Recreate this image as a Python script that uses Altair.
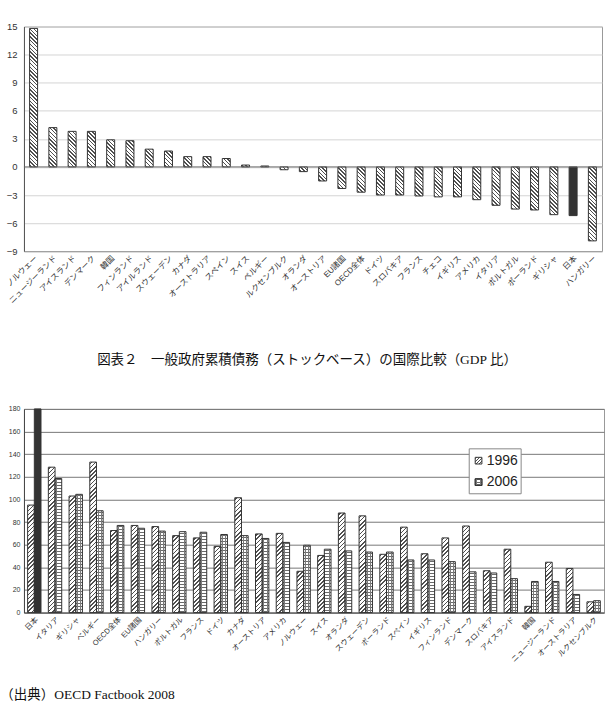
import altair as alt

# 財政収支（GDP比, %）
balance_countries = [
    "ノルウェー", "ニュージーランド", "アイスランド", "デンマーク", "韓国", "フィンランド",
    "アイルランド", "スウェーデン", "カナダ", "オーストラリア", "スペイン", "スイス",
    "ベルギー", "ルクセンブルク", "オランダ", "オーストリア", "EU諸国", "OECD全体",
    "ドイツ", "スロバキア", "フランス", "チェコ", "イギリス", "アメリカ", "イタリア",
    "ポルトガル", "ポーランド", "ギリシャ", "日本", "ハンガリー",
]
balance_values = [
    14.8, 4.2, 3.8, 3.8, 2.9, 2.8,
    1.9, 1.7, 1.1, 1.1, 0.9, 0.2,
    0.1, -0.3, -0.5, -1.5, -2.3, -2.7,
    -3.0, -3.0, -3.1, -3.2, -3.2, -3.5, -4.1,
    -4.5, -4.6, -5.1, -5.2, -7.9,
]
balance_ticks = [-9, -6, -3, 0, 3, 6, 9, 12, 15]

# 一般政府累積債務（GDP比, %）
debt_countries = [
    "日本", "イタリア", "ギリシャ", "ベルギー", "OECD全体", "EU諸国", "ハンガリー",
    "ポルトガル", "フランス", "ドイツ", "カナダ", "オーストリア", "アメリカ", "ノルウェー",
    "スイス", "オランダ", "スウェーデン", "ポーランド", "スペイン", "イギリス",
    "フィンランド", "デンマーク", "スロバキア", "アイスランド", "韓国",
    "ニュージーランド", "オーストラリア", "ルクセンブルク",
]
debt_years = ["1996", "2006"]
debt_1996 = [
    95, 128.5, 103, 133, 72.5, 77, 76,
    68, 66, 58.5, 101.5, 69.5, 70, 36.5,
    50.5, 88, 85.5, 51.5, 75.5, 52,
    66, 76.5, 37, 56, 5.5,
    44.5, 39, 9.5,
]
debt_2006 = [
    180, 118.5, 104.5, 90, 77, 74.5, 72,
    71.5, 71, 69, 68, 65.5, 62, 59.5,
    56, 54.5, 53.5, 53.5, 46.5, 46.5,
    45, 36, 35, 30, 27.5,
    27.5, 16, 10.5,
]
debt_ticks = list(range(0, 181, 20))

title_text = "図表２　一般政府累積債務（ストックベース）の国際比較（GDP 比）"
source_text = "（出典）OECD Factbook 2008"

SANS = "Liberation Sans, Noto Sans CJK JP, sans-serif"
SERIF = "Liberation Serif, Noto Sans CJK JP, serif"
INK = "#333333"
HATCH = "#505050"
CLEAR = "rgba(255,255,255,0)"

TOP_W, TOP_H = 579, 225
TOP_DOMAIN = [-9, 15]
TOP_BAR = 8
BOT_W, BOT_H = 581, 204
BOT_DOMAIN = [0, 180]
BOT_PAD = 0.355
BOT_BAR = BOT_W / len(debt_countries) * (1 - BOT_PAD) / 2


def stripe_stops(length, period, line, ink, paper="#ffffff"):
    """Hard-edged gradient stops giving evenly spaced stripes along a length in px."""
    stops = [{"offset": 0.0, "color": paper}]
    start = (period - line) / 2
    while start < length:
        a = round(start / length, 5)
        b = round(min((start + line) / length, 1.0), 5)
        stops += [
            {"offset": a, "color": paper}, {"offset": a, "color": ink},
            {"offset": b, "color": ink}, {"offset": b, "color": paper},
        ]
        start += period
    stops.append({"offset": 1.0, "color": paper})
    return stops


def hatch_back(w, h, period=3.8, line=1.5, ink=HATCH):
    # 45-degree "\" stripes inside a w x h box (bounding-box gradient units)
    h = max(h, 0.5)
    k = (w + h) / (w * w + h * h)
    return {"gradient": "linear", "x1": 0, "y1": 1,
            "x2": round(k * w, 6), "y2": round(1 - k * h, 6),
            "stops": stripe_stops(w + h, period, line, ink)}


def hatch_fwd(w, h, period=4.2, line=1.5, ink=HATCH):
    # 45-degree "/" stripes inside a w x h box
    h = max(h, 0.5)
    k = (w + h) / (w * w + h * h)
    return {"gradient": "linear", "x1": 0, "y1": 0,
            "x2": round(k * w, 6), "y2": round(k * h, 6),
            "stops": stripe_stops(w + h, period, line, ink)}


def hlines(h, period=3.0, line=1.0, ink="#6a6a6a"):
    h = max(h, 0.5)
    return {"gradient": "linear", "x1": 0.5, "y1": 0, "x2": 0.5, "y2": 1,
            "stops": stripe_stops(h, period, line, ink)}


def vlines(w, ink="#7a7a7a"):
    return {"gradient": "linear", "x1": 0, "y1": 0, "x2": 1, "y2": 0,
            "stops": stripe_stops(w, w / 2, 0.8, ink, paper=CLEAR)}


one_row = alt.Data(values=[{}])

# ---------- 財政収支 ----------
px_top = TOP_H / (TOP_DOMAIN[1] - TOP_DOMAIN[0])
top_rows = [
    {"country": c, "value": v,
     "fill": INK if c == "日本" else hatch_back(TOP_BAR, abs(v) * px_top)}
    for c, v in zip(balance_countries, balance_values)
]

top_y_scale = alt.Scale(domain=TOP_DOMAIN, nice=False, zero=False)
top_y_axis = alt.Axis(values=balance_ticks, gridColor="#d4d4d4", domainColor="#555555",
                      ticks=False, labelFontSize=9.5, labelPadding=7, labelOverlap=False)

top_bars = alt.Chart(alt.Data(values=top_rows)).mark_bar(
    size=TOP_BAR, stroke=INK, strokeWidth=1
).encode(
    x=alt.X("country:N", sort=balance_countries, title=None,
            axis=alt.Axis(labelAngle=-45, labelFontSize=8, ticks=False,
                          domainColor="#999999", labelPadding=3)),
    y=alt.Y("value:Q", title=None, scale=top_y_scale, axis=top_y_axis),
    fill=alt.Fill("fill:N", scale=None),
)
zero_line = alt.Chart(alt.Data(values=[{"value": 0}])).mark_rule(
    color="#666666", strokeWidth=1
).encode(y=alt.Y("value:Q", title=None, scale=top_y_scale, axis=top_y_axis))
top = alt.layer(top_bars, zero_line).properties(width=TOP_W, height=TOP_H)

# ---------- 累積債務 ----------
px_bot = BOT_H / (BOT_DOMAIN[1] - BOT_DOMAIN[0])
debt_rows = []
for c, a, b in zip(debt_countries, debt_1996, debt_2006):
    debt_rows.append({"country": c, "year": debt_years[0], "value": a,
                      "fill": hatch_fwd(BOT_BAR, a * px_bot), "grid": CLEAR})
    solid = c == "日本"
    debt_rows.append({"country": c, "year": debt_years[1], "value": b,
                      "fill": INK if solid else hlines(b * px_bot),
                      "grid": CLEAR if solid else vlines(BOT_BAR)})

debt_base = alt.Chart(alt.Data(values=debt_rows)).encode(
    x=alt.X("country:N", sort=debt_countries, title=None,
            scale=alt.Scale(paddingInner=BOT_PAD, paddingOuter=BOT_PAD / 2),
            axis=alt.Axis(labelAngle=-45, labelFontSize=7.5, ticks=False,
                          domainColor="#555555", labelPadding=3)),
    xOffset=alt.XOffset("year:N", sort=debt_years,
                        scale=alt.Scale(paddingInner=0, paddingOuter=0)),
    y=alt.Y("value:Q", title=None,
            scale=alt.Scale(domain=BOT_DOMAIN, nice=False),
            axis=alt.Axis(values=debt_ticks, gridColor="#777777", domainColor="#444444",
                          ticks=False, labelFontSize=7, labelPadding=4,
                          labelOverlap=False)),
)
debt_fill = debt_base.mark_bar(strokeWidth=0).encode(fill=alt.Fill("fill:N", scale=None))
debt_grid = debt_base.mark_bar(stroke=INK, strokeWidth=1).encode(
    fill=alt.Fill("grid:N", scale=None)
)

# legend box drawn inside the plot area
SYM = 6.7
LEG_X = 446
legend_layers = [
    alt.Chart(one_row).mark_rect(fill="white", stroke="#888888", strokeWidth=1).encode(
        x=alt.value(LEG_X), x2=alt.value(LEG_X + 52), y=alt.value(40), y2=alt.value(85)
    )
]
for i, yr in enumerate(debt_years):
    y0 = 48.5 + i * 21.5
    box = dict(x=alt.value(LEG_X + 6), x2=alt.value(LEG_X + 6 + SYM),
               y=alt.value(y0), y2=alt.value(y0 + SYM))
    if i == 0:
        legend_layers.append(alt.Chart(one_row).mark_rect(
            fill=hatch_fwd(SYM, SYM, period=3.0, line=1.2), stroke=INK, strokeWidth=1).encode(**box))
    else:
        legend_layers.append(alt.Chart(one_row).mark_rect(
            fill=hlines(SYM, period=2.2, line=0.9), stroke=INK, strokeWidth=1).encode(**box))
        legend_layers.append(alt.Chart(one_row).mark_rect(
            fill=vlines(SYM), stroke=INK, strokeWidth=1).encode(**box))
    legend_layers.append(alt.Chart(one_row).mark_text(
        align="left", baseline="middle", fontSize=14, font=SANS, color="#222222"
    ).encode(x=alt.value(LEG_X + 17.5), y=alt.value(y0 + SYM / 2), text=alt.value(yr)))

bottom = alt.layer(debt_fill, debt_grid, *legend_layers).properties(
    width=BOT_W, height=BOT_H,
    title=alt.TitleParams(title_text, font=SERIF, fontSize=13.5, fontWeight="normal",
                          color="#111111", offset=38, anchor="middle", dx=-7),
)

chart = alt.vconcat(top, bottom, spacing=47).properties(
    padding={"left": 0, "top": 20, "right": 2, "bottom": 2},
    title=alt.TitleParams(source_text, font=SERIF, fontSize=13.5, fontWeight="normal",
                          color="#111111", orient="bottom", anchor="start", offset=24,
                          dx=-4),
).configure_view(
    stroke="#999999", strokeWidth=1
).configure_axis(
    labelFont=SANS, labelColor="#333333", domainWidth=1, gridWidth=1
)

chart.save("out.html", embed_options={"renderer": "svg", "actions": False})
